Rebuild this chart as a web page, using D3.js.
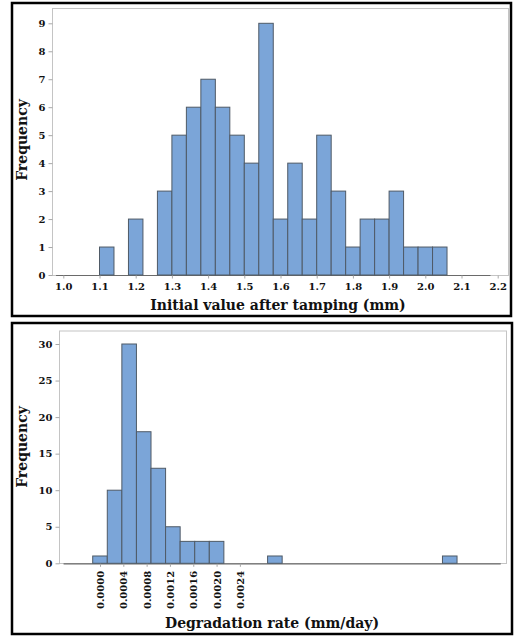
<!DOCTYPE html>
<html>
<head>
<meta charset="utf-8">
<script src="https://cdn.jsdelivr.net/npm/d3@7"></script>
<style>
  html, body { margin: 0; padding: 0; background: #fff; }
  svg { display: block; }
  .tick text { font-family: "DejaVu Serif", serif; font-weight: bold; font-size: 10px; fill: #111; }
  .title { font-family: "DejaVu Serif", serif; font-weight: bold; fill: #111; }
</style>
</head>
<body>
<svg id="chart" width="516" height="636"></svg>
<script>
// ---------- DATA ----------
// Panel 1: Initial value after tamping (mm), bin midpoints (width 0.04)
const tampMids = [1.00, 1.04, 1.08, 1.12, 1.16, 1.20, 1.24, 1.28, 1.32, 1.36,
                  1.40, 1.44, 1.48, 1.52, 1.56, 1.60, 1.64, 1.68, 1.72, 1.76,
                  1.80, 1.84, 1.88, 1.92, 1.96, 2.00, 2.04, 2.08, 2.12, 2.16];
const tampCounts = [0, 0, 0, 1, 0, 2, 0, 3, 5, 6,
                    7, 6, 5, 4, 9, 2, 4, 2, 5, 3,
                    1, 2, 2, 3, 1, 1, 1, 0, 0, 0];
const tampBinWidth = 0.04;
const tampXTicks = [1.0, 1.1, 1.2, 1.3, 1.4, 1.5, 1.6, 1.7, 1.8, 1.9, 2.0, 2.1, 2.2];
const tampYTicks = [0, 1, 2, 3, 4, 5, 6, 7, 8, 9];

// Panel 2: Degradation rate (mm/day), bin midpoints (width 0.00025)
const rateMids = [-0.0005, -0.00025, 0.0, 0.00025, 0.0005, 0.00075, 0.001, 0.00125, 0.0015, 0.00175,
                  0.002, 0.00225, 0.0025, 0.00275, 0.003, 0.00325, 0.0035, 0.00375, 0.004, 0.00425,
                  0.0045, 0.00475, 0.005, 0.00525, 0.0055, 0.00575, 0.006, 0.00625, 0.0065, 0.00675];
const rateCounts = [0, 0, 1, 10, 30, 18, 13, 5, 3, 3,
                    3, 0, 0, 0, 1, 0, 0, 0, 0, 0,
                    0, 0, 0, 0, 0, 0, 1, 0, 0, 0];
const rateBinWidth = 0.00025;
const rateXTicks = [0.0000, 0.0004, 0.0008, 0.0012, 0.0016, 0.0020, 0.0024];
const rateYTicks = [0, 5, 10, 15, 20, 25, 30];

// ---------- DRAW ----------
const svg = d3.select("#chart");
const BAR_FILL = "#7ba5d8";
const BAR_STROKE = "#4f5a66";
const FRAME = "#c4c4c4";
const TICK = "#a8a8a8";

function panel(o) {
  // outer black box
  svg.append("rect")
    .attr("x", o.box[0]).attr("y", o.box[1])
    .attr("width", o.box[2] - o.box[0]).attr("height", o.box[3] - o.box[1])
    .attr("fill", "none").attr("stroke", "#000").attr("stroke-width", 2.5);

  const x = d3.scaleLinear().domain(o.xDomain).range(o.xRange);
  const y = d3.scaleLinear().domain(o.yDomain).range(o.yRange);
  const g = svg.append("g");

  // plot frame
  g.append("rect")
    .attr("x", o.frame[0] + 0.5).attr("y", o.frame[1] + 0.5)
    .attr("width", o.frame[2] - o.frame[0]).attr("height", o.frame[3] - o.frame[1])
    .attr("fill", "none").attr("stroke", FRAME).attr("stroke-width", 1);

  // y axis
  const ya = g.append("g")
    .attr("transform", `translate(${o.frame[0] + 0.5},0)`)
    .call(d3.axisLeft(y).tickValues(o.yTicks).tickSize(4).tickPadding(3).tickFormat(d3.format("d")));
  ya.select(".domain").remove();
  ya.selectAll(".tick line").attr("stroke", TICK);

  // bins
  const bins = o.mids.map((m, i) => ({ x0: m - o.bw / 2, x1: m + o.bw / 2, n: o.counts[i] }));
  // baseline across the full bin range (zero-height bins)
  g.append("line")
    .attr("x1", x(bins[0].x0)).attr("x2", x(bins[bins.length - 1].x1))
    .attr("y1", y(0) + 0.5).attr("y2", y(0) + 0.5)
    .attr("stroke", "#6a6a6a").attr("stroke-width", 1.2);

  g.selectAll("rect.bar").data(bins.filter(d => d.n > 0)).enter().append("rect")
    .attr("class", "bar")
    .attr("x", d => x(d.x0)).attr("width", d => x(d.x1) - x(d.x0))
    .attr("y", d => y(d.n)).attr("height", d => y(0) - y(d.n))
    .attr("fill", BAR_FILL).attr("stroke", BAR_STROKE).attr("stroke-width", 1);

  // x axis
  const xa = g.append("g")
    .attr("transform", `translate(0,${y(0) + 0.5})`)
    .call(d3.axisBottom(x).tickValues(o.xTicks).tickSize(3).tickPadding(4).tickFormat(o.xFormat));
  xa.select(".domain").remove();
  xa.selectAll(".tick line").attr("stroke", TICK);
  if (o.rotate) {
    xa.selectAll(".tick text")
      .attr("transform", "rotate(-90)")
      .attr("text-anchor", "end")
      .attr("x", -7).attr("y", 0).attr("dy", "0.36em");
  }

  // titles
  svg.append("text").attr("class", "title")
    .attr("transform", `translate(${o.yTitle[0]},${o.yTitle[1]}) rotate(-90)`)
    .attr("text-anchor", "middle").attr("dy", "0.36em")
    .style("font-size", "14px")
    .text("Frequency");
  svg.append("text").attr("class", "title")
    .attr("x", o.xTitle[0]).attr("y", o.xTitle[1])
    .attr("text-anchor", "middle").attr("dy", "0.36em")
    .style("font-size", "14px")
    .text(o.xLabel);
}

panel({
  box: [12, 3, 511, 316],
  frame: [52, 8, 508, 275],
  xDomain: [1.0, 2.2], xRange: [63.3, 497.7],
  yDomain: [0, 9], yRange: [275, 23.3],
  mids: tampMids, counts: tampCounts, bw: tampBinWidth,
  xTicks: tampXTicks, yTicks: tampYTicks,
  xFormat: d3.format(".1f"),
  yTitle: [22, 140], xTitle: [278, 305],
  xLabel: "Initial value after tamping (mm)"
});

panel({
  box: [12, 323, 512, 634],
  frame: [59, 330.5, 506, 563],
  xDomain: [0, 0.0024], xRange: [100, 239.9],
  yDomain: [0, 30], yRange: [563.3, 344],
  mids: rateMids, counts: rateCounts, bw: rateBinWidth,
  xTicks: rateXTicks, yTicks: rateYTicks,
  xFormat: d3.format(".4f"), rotate: true,
  yTitle: [22, 447], xTitle: [272, 623],
  xLabel: "Degradation rate (mm/day)"
});
</script>
</body>
</html>
